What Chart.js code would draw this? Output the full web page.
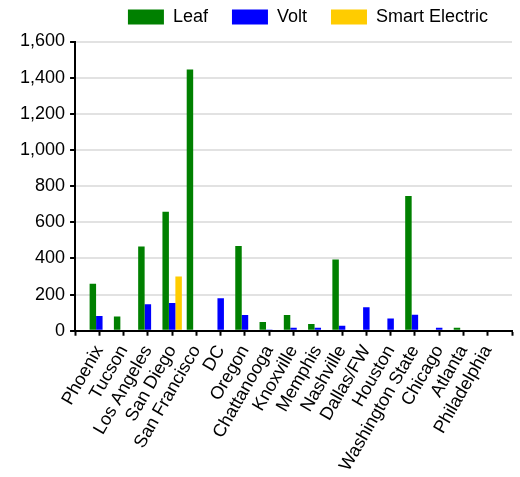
<!DOCTYPE html>
<html>
<head>
<meta charset="utf-8">
<script src="https://cdn.jsdelivr.net/npm/chart.js@4.4.1/dist/chart.umd.min.js"></script>
<style>
  html, body { margin: 0; padding: 0; background: #fff; }
  #wrap { width: 520px; height: 477px; }
</style>
</head>
<body>
<div id="wrap"><canvas id="c" width="520" height="477"></canvas></div>
<script>
const CITIES = ["Phoenix", "Tucson", "Los Angeles", "San Diego", "San Francisco", "DC", "Oregon",
  "Chattanooga", "Knoxville", "Memphis", "Nashville", "Dallas/FW", "Houston",
  "Washington State", "Chicago", "Atlanta", "Philadelphia"];
const LEAF  = [260, 79, 466, 658, 1445, 5, 469, 48, 87, 37, 394, 0, 0, 746, 0, 17, 0];
const VOLT  = [81, 5, 146, 153, 0, 179, 87, 7, 17, 17, 28, 130, 68, 89, 17, 0, 5];
const SMART = [0, 0, 0, 300, 0, 0, 0, 0, 0, 0, 0, 0, 0, 0, 0, 0, 0];
const SERIES = ["Leaf", "Volt", "Smart Electric"];
const Y_TICKS = [0, 200, 400, 600, 800, 1000, 1200, 1400, 1600];

Chart.defaults.font.family = "'Liberation Sans', Arial, sans-serif";
Chart.defaults.font.size = 18;
Chart.defaults.color = '#000';

// labels padded with an empty slot at each end so ticks sit on category centres
const labels = [''].concat(CITIES, ['']);
const pad = arr => [null].concat(arr, [null]);

const legendHeight = {
  id: 'legendHeight',
  beforeLayout(chart) {
    const lg = chart.legend;
    if (lg && !lg._patched) {
      const f = lg.fit;
      lg.fit = function () { f.call(this); this.height = 57.5; };
      lg._patched = true;
    }
  }
};

new Chart(document.getElementById('c'), {
  type: 'bar',
  data: {
    labels: labels,
    datasets: [
      { label: SERIES[0], data: pad(LEAF), backgroundColor: '#008000' },
      { label: SERIES[1], data: pad(VOLT), backgroundColor: '#0000ff' },
      { label: SERIES[2], data: pad(SMART), backgroundColor: '#ffcc00' }
    ]
  },
  options: {
    responsive: false,
    animation: false,
    devicePixelRatio: 1,
    categoryPercentage: 0.8,
    barPercentage: 1.0,
    layout: { padding: { top: -16, left: 15, right: 8, bottom: -4 } },
    plugins: {
      tooltip: { enabled: false },
      legend: {
        position: 'top',
        align: 'end',
        labels: { boxWidth: 36, boxHeight: 15, padding: 24, font: { size: 18 }, color: '#000' }
      }
    },
    scales: {
      x: {
        offset: false,
        afterFit(scale) { scale.paddingLeft = 0; scale.paddingRight = 0; },
        grid: { display: true, offset: false, drawOnChartArea: false, drawTicks: true,
                tickLength: 5, tickColor: '#000', tickWidth: 2 },
        border: { display: true, color: '#000', width: 2 },
        ticks: { autoSkip: false, minRotation: 60, maxRotation: 60, padding: 6, color: '#000',
                 font: { size: 18 } }
      },
      y: {
        min: 0, max: 1600,
        afterBuildTicks(scale) { scale.ticks = Y_TICKS.map(v => ({ value: v })); },
        grid: { color: '#e2e2e2', lineWidth: 2, drawTicks: true, tickLength: 5,
                tickColor: '#000', tickWidth: 2 },
        border: { display: true, color: '#000', width: 2 },
        ticks: { padding: 5, color: '#000', font: { size: 18 },
                 callback: v => v.toLocaleString('en-US') }
      }
    }
  },
  plugins: [legendHeight]
});
</script>
</body>
</html>
